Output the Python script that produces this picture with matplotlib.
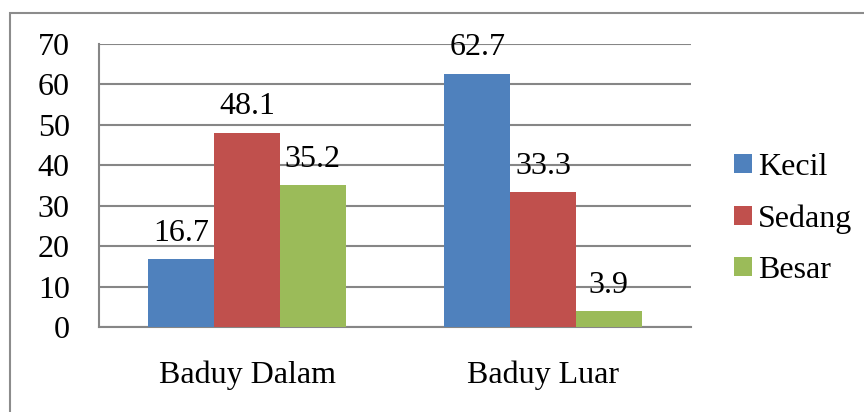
import matplotlib.pyplot as plt
import numpy as np
from matplotlib.patches import Rectangle

plt.rcParams['font.family'] = ['Liberation Serif', 'DejaVu Serif']

# data
groups = ["Baduy Dalam", "Baduy Luar"]
series = ["Kecil", "Sedang", "Besar"]
kecil = [16.7, 62.7]
sedang = [48.1, 33.3]
besar = [35.2, 3.9]
colors = ["#4F81BD", "#C0504D", "#9BBB59"]

fig = plt.figure(figsize=(8.64, 4.12), dpi=100)
ax = fig.add_axes([99 / 864, 1 - 327 / 412, 592 / 864, 283 / 412])

x = np.arange(len(groups))
width = 1 / 4.5
for i, (name, vals) in enumerate(zip(series, [kecil, sedang, besar])):
    pos = x + (i - 1) * width
    bars = ax.bar(pos, vals, width=width, color=colors[i], label=name, zorder=3)
    for b, v in zip(bars, vals):
        ax.annotate(f"{v}", (b.get_x() + b.get_width() / 2, v),
                    xytext=(0, 8), textcoords="offset points",
                    ha="center", va="bottom", fontsize=23, zorder=4)

ax.set_xlim(-0.5, 1.5)
ax.set_ylim(0, 70)
ax.set_yticks(range(0, 71, 10))
ax.yaxis.grid(True, color="#868686", linewidth=1.5, zorder=0)
ax.set_xticks(x)
ax.set_xticklabels(groups)
ax.tick_params(axis="both", length=0, labelsize=23)
ax.tick_params(axis="y", pad=21)
ax.tick_params(axis="x", pad=24)
for side in ["top", "right"]:
    ax.spines[side].set_visible(False)
for side in ["left", "bottom"]:
    ax.spines[side].set_color("#868686")
    ax.spines[side].set_linewidth(1.5)

fig.legend(loc="center left", bbox_to_anchor=(718 / 864, 1 - 219 / 412),
           frameon=False, fontsize=23, handlelength=0.55, handleheight=0.55,
           handletextpad=0.2, labelspacing=0.7, borderpad=0)

# chart border
fig.patches.append(Rectangle((10 / 864, -0.1), 1.2, 1 - 13 / 412 + 0.1,
                             transform=fig.transFigure, fill=False,
                             edgecolor="#8c8c8c", linewidth=1.5))

fig.savefig("out.png", dpi=100)
